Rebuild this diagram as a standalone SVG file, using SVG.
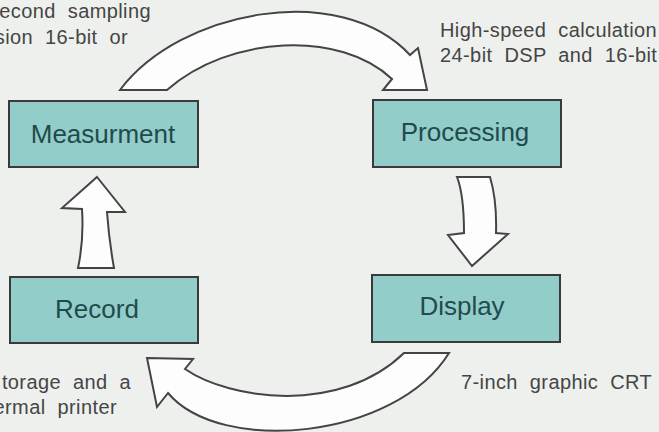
<svg xmlns="http://www.w3.org/2000/svg" width="659" height="432" viewBox="0 0 659 432">
  <style>
    .box { fill: #93cdca; stroke: #3a3a3a; stroke-width: 2; }
    .label { font-family: "Liberation Sans", Arial, sans-serif; font-size: 26px; fill: #1f4b4c; text-anchor: middle; }
    .note { font-family: "Liberation Sans", Arial, sans-serif; font-size: 20px; fill: #454545; letter-spacing: 0.4px; word-spacing: 6px; }
    .flow { fill: #fdfdfd; stroke: #444; stroke-width: 2; stroke-linejoin: miter; }
  </style>
  <rect width="659" height="432" fill="#eef0ee"/>

  <!-- side notes -->
  <text class="note" x="151" y="18" text-anchor="end">econd sampling</text>
  <text class="note" x="128" y="44" text-anchor="end">sion 16-bit or</text>
  <text class="note" x="440" y="37">High-speed calculation</text>
  <text class="note" x="440" y="62">24-bit DSP and 16-bit</text>
  <text class="note" x="131" y="389" text-anchor="end">torage and a</text>
  <text class="note" x="117" y="414" text-anchor="end">ermal printer</text>
  <text class="note" x="461" y="389">7-inch graphic CRT</text>

  <!-- connectors -->
  <g id="connectors">
    <path class="flow" d="M120,90 C180,10 340,-20 410,55 L418,48 L427,90 L383,90 L392,79 C340,30 230,35 167,90 Z"/>
    <path class="flow" d="M457,177 L490,177 Q497,200 496,233 L508,234 L472,266 L448,235 L464,233 Q464,195 457,177 Z"/>
    <path class="flow" d="M147,358 L193,359 L185,369 C230,400 340,415 404,353 L449,353 C395,440 220,455 168,393 L157,407 Z"/>
    <path class="flow" d="M97,177 L125,212 L107,212 Q109,240 114,268 L78,268 Q84,240 82,209 L62,208 Z"/>
  </g>

  <g id="measurment">
    <rect class="box" x="9" y="101" width="189" height="66"/>
    <text class="label" x="103" y="143">Measurment</text>
  </g>
  <g id="processing">
    <rect class="box" x="373" y="100" width="188" height="67"/>
    <text class="label" x="465" y="141">Processing</text>
  </g>
  <g id="display">
    <rect class="box" x="372" y="275" width="188" height="67"/>
    <text class="label" x="462" y="315">Display</text>
  </g>
  <g id="record">
    <rect class="box" x="10" y="277" width="188" height="66"/>
    <text class="label" x="97" y="318">Record</text>
  </g>
</svg>
